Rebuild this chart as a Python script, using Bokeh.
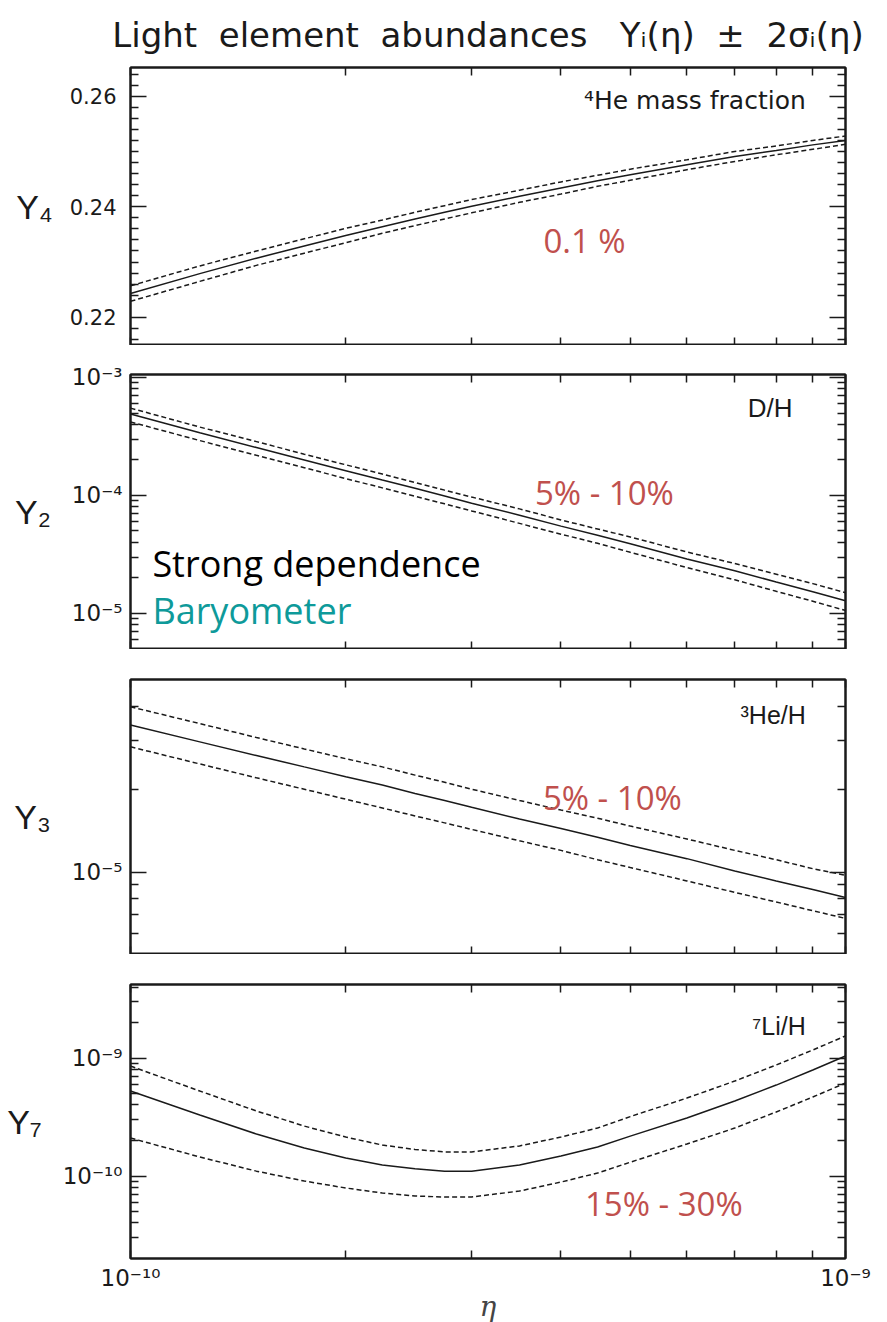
from bokeh.plotting import figure
from bokeh.layouts import column
from bokeh.models import (LinearAxis, LogAxis, FixedTicker, CustomJSTickFormatter,
                          Label, Range1d)
from bokeh.embed import file_html
from bokeh.resources import INLINE

# ---------------------------------------------------------------- data
# baryon-to-photon ratio eta (units of 1e-10)
eta10 = [1.0, 1.25, 1.5, 1.75, 2.0, 2.25, 2.5, 2.75, 3.0, 3.5, 4.0, 4.5, 5.0,
         6.0, 7.0, 8.0, 9.0, 10.0]

# 4He mass fraction Y4 with +-2 sigma
he4_mid = [0.2243, 0.2279, 0.2307, 0.2329, 0.2348, 0.2364, 0.2378, 0.2390, 0.2401,
           0.2419, 0.2434, 0.2447, 0.2458, 0.2476, 0.2491, 0.2502, 0.2512, 0.2520]
he4_hi = [0.2257, 0.2293, 0.2320, 0.2342, 0.2361, 0.2376, 0.2390, 0.2402, 0.2413,
          0.2430, 0.2445, 0.2457, 0.2468, 0.2485, 0.2500, 0.2510, 0.2520, 0.2528]
he4_lo = [0.2229, 0.2265, 0.2294, 0.2316, 0.2335, 0.2352, 0.2366, 0.2378, 0.2389,
          0.2408, 0.2423, 0.2437, 0.2448, 0.2467, 0.2482, 0.2494, 0.2504, 0.2513]

# D/H
dh_mid = [4.9e-4, 3.4e-4, 2.55e-4, 2.0e-4, 1.62e-4, 1.35e-4, 1.15e-4, 9.9e-5, 8.6e-5,
          6.8e-5, 5.5e-5, 4.6e-5, 3.9e-5, 2.9e-5, 2.3e-5, 1.85e-5, 1.53e-5, 1.28e-5]
dh_hi = [5.5e-4, 3.8e-4, 2.86e-4, 2.24e-4, 1.82e-4, 1.52e-4, 1.29e-4, 1.11e-4, 9.7e-5,
         7.7e-5, 6.2e-5, 5.2e-5, 4.45e-5, 3.32e-5, 2.65e-5, 2.15e-5, 1.79e-5, 1.5e-5]
dh_lo = [4.2e-4, 2.92e-4, 2.19e-4, 1.72e-4, 1.39e-4, 1.16e-4, 9.85e-5, 8.5e-5, 7.4e-5,
         5.8e-5, 4.7e-5, 3.93e-5, 3.3e-5, 2.45e-5, 1.93e-5, 1.54e-5, 1.27e-5, 1.06e-5]

# 3He/H
he3_mid = [3.42e-5, 2.97e-5, 2.65e-5, 2.41e-5, 2.22e-5, 2.07e-5, 1.93e-5, 1.82e-5, 1.72e-5,
           1.56e-5, 1.44e-5, 1.34e-5, 1.25e-5, 1.12e-5, 1.01e-5, 9.3e-6, 8.65e-6, 8.1e-6]
he3_hi = [3.98e-5, 3.46e-5, 3.08e-5, 2.8e-5, 2.58e-5, 2.41e-5, 2.25e-5, 2.12e-5, 2.0e-5,
          1.82e-5, 1.68e-5, 1.57e-5, 1.47e-5, 1.32e-5, 1.2e-5, 1.11e-5, 1.03e-5, 9.75e-6]
he3_lo = [2.85e-5, 2.47e-5, 2.2e-5, 2.0e-5, 1.84e-5, 1.71e-5, 1.6e-5, 1.51e-5, 1.43e-5,
          1.3e-5, 1.2e-5, 1.11e-5, 1.04e-5, 9.3e-6, 8.45e-6, 7.8e-6, 7.25e-6, 6.8e-6]

# 7Li/H
li7_mid = [5.25e-10, 3.29e-10, 2.27e-10, 1.73e-10, 1.42e-10, 1.24e-10, 1.15e-10, 1.10e-10,
           1.10e-10, 1.24e-10, 1.48e-10, 1.76e-10, 2.18e-10, 3.1e-10, 4.32e-10, 5.9e-10,
           7.91e-10, 1.04e-9]
li7_hi = [8.55e-10, 5.25e-10, 3.56e-10, 2.65e-10, 2.14e-10, 1.83e-10, 1.68e-10, 1.60e-10,
          1.60e-10, 1.80e-10, 2.14e-10, 2.55e-10, 3.19e-10, 4.58e-10, 6.38e-10, 8.73e-10,
          1.17e-9, 1.54e-9]
li7_lo = [2.10e-10, 1.45e-10, 1.10e-10, 9.07e-11, 7.92e-11, 7.18e-11, 6.77e-11, 6.64e-11,
          6.64e-11, 7.46e-11, 8.89e-11, 1.06e-10, 1.31e-10, 1.87e-10, 2.55e-10, 3.49e-10,
          4.67e-10, 6.14e-10]

# ticks
x_ticks = [1e-10, 2e-10, 3e-10, 4e-10, 5e-10, 6e-10, 7e-10, 8e-10, 9e-10, 1e-9]
y4_major = [0.22, 0.24, 0.26]
y4_minor = [0.216, 0.218, 0.224, 0.226, 0.228, 0.230, 0.232, 0.234, 0.236, 0.238,
            0.242, 0.244, 0.246, 0.248, 0.250, 0.252, 0.254, 0.256, 0.258, 0.262, 0.264]
y2_major = [1e-5, 1e-4, 1e-3]
y2_minor = [6e-6, 7e-6, 8e-6, 9e-6, 2e-5, 3e-5, 4e-5, 5e-5, 6e-5, 7e-5, 8e-5, 9e-5,
            2e-4, 3e-4, 4e-4, 5e-4, 6e-4, 7e-4, 8e-4, 9e-4]
y3_major = [1e-5]
y3_minor = [6e-6, 7e-6, 8e-6, 9e-6, 2e-5, 3e-5, 4e-5]
y7_major = [1e-10, 1e-9]
y7_minor = [3e-11, 4e-11, 5e-11, 6e-11, 7e-11, 8e-11, 9e-11,
            2e-10, 3e-10, 4e-10, 5e-10, 6e-10, 7e-10, 8e-10, 9e-10, 2e-9, 3e-9, 4e-9]

eta = [v * 1e-10 for v in eta10]

# ---------------------------------------------------------------- styling
INK = "#1a1a1a"
RED = "#C0504D"
TEAL = "#0E9A9A"
AX_FONT = "DejaVu Sans"
LAB_FONT = "Liberation Sans"
NOTE_FONT = "Open Sans"

POW10 = """
    const l = Math.log10(tick);
    const e = Math.round(l);
    if (Math.abs(l - e) > 1e-6) { return ""; }
    const sup = {"-": "\u207b", "0": "\u2070", "1": "\u00b9", "2": "\u00b2", "3": "\u00b3",
                 "4": "\u2074", "5": "\u2075", "6": "\u2076", "7": "\u2077", "8": "\u2078",
                 "9": "\u2079"};
    return "10" + String(e).split("").map(c => sup[c]).join("");
"""
BLANK = "return '';"


def style_axis(ax, major_in, minor_in, show_labels):
    ax.axis_line_color = INK
    ax.axis_line_width = 2
    ax.major_tick_line_color = INK
    ax.minor_tick_line_color = INK
    ax.major_tick_line_width = 1.5
    ax.minor_tick_line_width = 1.5
    ax.major_tick_out = 0
    ax.minor_tick_out = 0
    ax.major_tick_in = major_in
    ax.minor_tick_in = minor_in
    ax.major_label_text_font = AX_FONT
    ax.major_label_text_color = INK
    ax.major_label_text_font_size = "21px"
    if not show_labels:
        ax.formatter = CustomJSTickFormatter(code=BLANK)
        ax.major_label_text_font_size = "2px"
        ax.major_label_standoff = 0


def panel(y_type, y_rng, y_major, y_minor, ylab, lab_standoff, frame_h, top, bottom,
          mid, hi, lo, last=False):
    p = figure(x_axis_type="log", y_axis_type=y_type,
               x_range=Range1d(1e-10, 1e-9), y_range=Range1d(*y_rng),
               frame_width=715, frame_height=frame_h,
               min_border_left=130, min_border_right=42,
               min_border_top=top, min_border_bottom=bottom,
               output_backend="svg", toolbar_location=None,
               background_fill_color="white", border_fill_color="white")
    p.xgrid.visible = False
    p.ygrid.visible = False
    p.outline_line_color = INK
    p.outline_line_width = 2

    y_tick = FixedTicker(ticks=y_major, minor_ticks=y_minor)
    x_tick = FixedTicker(ticks=x_ticks, minor_ticks=[])

    # left axis with labels
    yax = p.yaxis[0]
    yax.ticker = y_tick
    style_axis(yax, 16, 8, True)
    if y_type == "log":
        yax.formatter = CustomJSTickFormatter(code=POW10)
        yax.major_label_text_font_size = "23px"
        yax.major_label_standoff = 8
    else:
        yax.major_label_standoff = 14
    yax.axis_label = ylab
    yax.axis_label_orientation = "horizontal"
    yax.axis_label_text_font = LAB_FONT
    yax.axis_label_text_font_style = "normal"
    yax.axis_label_text_font_size = "34px"
    yax.axis_label_text_color = INK
    yax.axis_label_standoff = lab_standoff

    # bottom axis
    xax = p.xaxis[0]
    xax.ticker = x_tick
    style_axis(xax, 8, 0, last)
    if last:
        xax.formatter = CustomJSTickFormatter(code=POW10)
        xax.major_label_text_font_size = "23px"
        xax.major_label_standoff = 6
        xax.axis_label = "\u03b7"
        xax.axis_label_text_font = "DejaVu Serif"
        xax.axis_label_text_font_style = "italic"
        xax.axis_label_text_font_size = "28px"
        xax.axis_label_standoff = -4

    # mirrored ticks on the top and right edges
    yr = (LogAxis if y_type == "log" else LinearAxis)(ticker=y_tick)
    style_axis(yr, 16, 8, False)
    p.add_layout(yr, "right")
    xt = LogAxis(ticker=x_tick)
    style_axis(xt, 8, 0, False)
    p.add_layout(xt, "above")

    p.line(eta, mid, line_color=INK, line_width=1.5)
    p.line(eta, hi, line_color=INK, line_width=1.5, line_dash="5 3")
    p.line(eta, lo, line_color=INK, line_width=1.5, line_dash="5 3")
    return p


def note(p, x, y, text, color, size, align="center", font=NOTE_FONT):
    p.add_layout(Label(x=x, y=y, text=text, text_color=color, text_font=font,
                       text_font_size=size, text_align=align, text_baseline="middle"))


SP = "\u00a0"
p1 = panel("linear", (0.2149, 0.2652), y4_major, y4_minor, "Y\u2084", 14, 278, 67, 0,
           he4_mid, he4_hi, he4_lo)
p1.title.text = ("Light" + SP * 2 + "element" + SP * 2 + "abundances" + SP * 3 +
                 "Y\u1d62(\u03b7)" + SP * 2 + "\u00b1" + SP * 2 + "2\u03c3\u1d62(\u03b7)")
p1.title.align = "center"
p1.title.vertical_align = "top"
p1.title.text_font = AX_FONT
p1.title.text_font_size = "34px"
p1.title.text_font_style = "normal"
p1.title.text_color = INK
p1.title.standoff = 22
note(p1, 8.8e-10, 0.2593, "\u2074He mass fraction", INK, "25px", "right", AX_FONT)
note(p1, 4.315e-10, 0.2339, "0.1 %", RED, "33px")

p2 = panel("log", (4.95e-6, 1.06e-3), y2_major, y2_minor, "Y\u2082", 18, 275, 29, 0,
           dh_mid, dh_hi, dh_lo)
note(p2, 8.43e-10, 5.46e-4, "D/H", INK, "26px", "right", LAB_FONT)
note(p2, 4.6e-10, 1.06e-4, "5% - 10%", RED, "33px")
note(p2, 1.073e-10, 2.65e-5, "Strong dependence", "#000000", "36px", "left")
note(p2, 1.073e-10, 1.06e-5, "Baryometer", TEAL, "36px", "left")

p3 = panel("log", (5.03e-6, 5.0e-5), y3_major, y3_minor, "Y\u2083", 18, 275, 30, 0,
           he3_mid, he3_hi, he3_lo)
note(p3, 8.8e-10, 3.72e-5, "\u00b3He/H", INK, "25px", "right", LAB_FONT)
note(p3, 4.72e-10, 1.87e-5, "5% - 10%", RED, "33px")

p4 = panel("log", (2.0e-11, 4.2e-9), y7_major, y7_minor, "Y\u2087", 18, 274, 30, 64,
           li7_mid, li7_hi, li7_lo, last=True)
note(p4, 8.8e-10, 1.87e-9, "\u2077Li/H", INK, "25px", "right", LAB_FONT)
note(p4, 5.57e-10, 5.9e-11, "15% - 30%", RED, "33px")

layout = column(p1, p2, p3, p4, spacing=0)
open("out.html", "w").write(file_html(layout, INLINE))
